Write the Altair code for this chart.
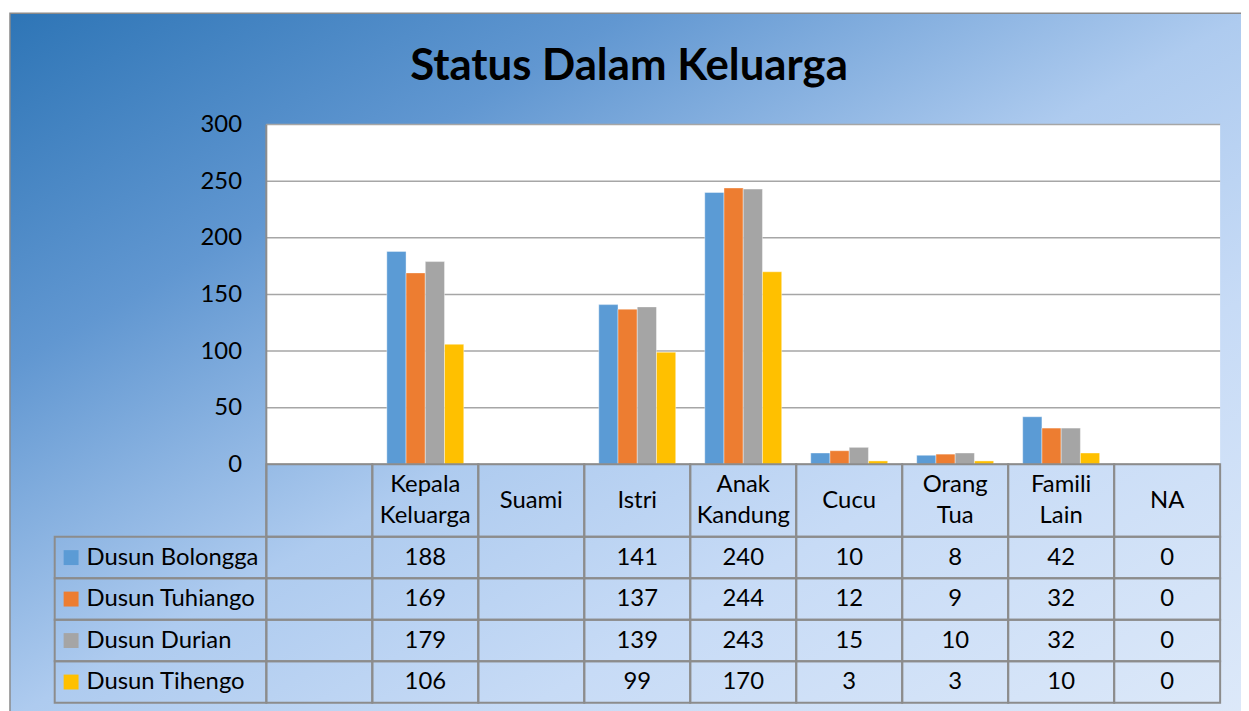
import altair as alt
import pandas as pd

# ---------------- data ----------------
categories = ["", "Kepala Keluarga", "Suami", "Istri", "Anak Kandung", "Cucu",
              "Orang Tua", "Famili Lain", "NA"]
series = ["Dusun Bolongga", "Dusun Tuhiango", "Dusun Durian", "Dusun Tihengo"]
colors = ["#5b9bd5", "#ed7d31", "#a5a5a5", "#ffc000"]
bolongga = [None, 188, None, 141, 240, 10, 8, 42, 0]
tuhiango = [None, 169, None, 137, 244, 12, 9, 32, 0]
durian = [None, 179, None, 139, 243, 15, 10, 32, 0]
tihengo = [None, 106, None, 99, 170, 3, 3, 10, 0]
y_ticks = [0, 50, 100, 150, 200, 250, 300]
title_text = "Status Dalam Keluarga"

values_by_series = dict(zip(series, [bolongga, tuhiango, durian, tihengo]))
rows = []
for s in series:
    for c, v in zip(categories, values_by_series[s]):
        rows.append({"cat": c, "series": s, "value": v,
                     "label": "" if v is None else str(v)})
df = pd.DataFrame(rows)
cat_df = pd.DataFrame({"cat": categories})
ser_df = pd.DataFrame({"series": series})
tick_df = pd.DataFrame({"v": y_ticks})
one = pd.DataFrame({"a": [0]})

# ---------------- layout (view pixels) ----------------
W, H = 1239, 700
PL, PR = 258, 1218      # plot area left/right
PT, PB = 112, 454       # plot area top/bottom (300 / 0)
HB = 527                # header row bottom
TB = 694                # table bottom
LL = 45                 # legend column left
FONT = "Lato"
FS = 24
LINE = "#8c8c8c"
LH = 31

yscale = alt.Scale(domain=[0, 300], range=[PB, PT], nice=False, zero=True)
xbar = alt.Scale(domain=categories, range=[PL, PR], paddingInner=0.274, paddingOuter=0.137)
xcell = alt.Scale(domain=categories, range=[PL, PR], paddingInner=0, paddingOuter=0)
yrow = alt.Scale(domain=series, range=[HB, TB], paddingInner=0, paddingOuter=0)
cscale = alt.Scale(domain=series, range=colors)

bg = alt.Chart(one).mark_rect(
    fill=alt.Gradient(gradient="linear", x1=0, y1=0, x2=1, y2=1,
                      stops=[alt.GradientStop(color="#2e75b6", offset=0),
                             alt.GradientStop(color="#6197d1", offset=0.25),
                             alt.GradientStop(color="#aecbef", offset=0.5),
                             alt.GradientStop(color="#c7dbf6", offset=0.7),
                             alt.GradientStop(color="#dde9f9", offset=1)]),
    stroke="#8a8a8a", strokeWidth=1.5
).encode(x=alt.value(0), x2=alt.value(W + 10), y=alt.value(0), y2=alt.value(H + 10))

title = alt.Chart(one).mark_text(
    text=title_text, font=FONT, fontSize=44, fontWeight="bold", color="black",
    align="center", baseline="alphabetic"
).encode(x=alt.value(623), y=alt.value(67))

plot_bg = alt.Chart(one).mark_rect(fill="white").encode(
    x=alt.value(PL), x2=alt.value(PR), y=alt.value(PT), y2=alt.value(PB))

grid = alt.Chart(tick_df).mark_rule(color="#a6a6a6", strokeWidth=1.5).encode(
    y=alt.Y("v:Q", scale=yscale, axis=None),
    x=alt.value(PL), x2=alt.value(PR))

left_border = alt.Chart(one).mark_rule(color=LINE, strokeWidth=2).encode(
    x=alt.value(PL), y=alt.value(PT), y2=alt.value(HB))

bars = alt.Chart(df).mark_bar(stroke="white", strokeWidth=0.8, strokeOpacity=0.5).encode(
    x=alt.X("cat:N", scale=xbar, axis=None, sort=categories),
    xOffset=alt.XOffset("series:N", scale=alt.Scale(domain=series), sort=series),
    y=alt.Y("value:Q", scale=yscale, title=None,
            axis=alt.Axis(orient="left", values=y_ticks, grid=False, domain=False,
                          ticks=False, offset=-PL, labelPadding=25, zindex=1,
                          labelFont=FONT, labelFontSize=FS, labelColor="black")),
    color=alt.Color("series:N", scale=cscale, legend=None))

header_cells = alt.Chart(cat_df).mark_rect(fill="transparent", stroke=LINE, strokeWidth=2).encode(
    x=alt.X("cat:N", scale=xcell, axis=None, sort=categories),
    y=alt.value(PB), y2=alt.value(HB))

header_one = alt.Chart(cat_df).transform_filter(
    "indexof(datum.cat, ' ') < 0"
).mark_text(
    font=FONT, fontSize=FS, color="black", align="center", baseline="middle"
).encode(x=alt.X("cat:N", scale=xcell, axis=None, sort=categories),
         y=alt.value((PB + HB) / 2), text="cat:N")

header_two = alt.Chart(cat_df).transform_filter(
    "indexof(datum.cat, ' ') >= 0"
).mark_text(
    font=FONT, fontSize=FS, color="black", align="center", baseline="middle",
    lineBreak=" ", lineHeight=LH
).encode(x=alt.X("cat:N", scale=xcell, axis=None, sort=categories),
         y=alt.value((PB + HB) / 2 - LH / 2), text="cat:N")

data_cells = alt.Chart(df).mark_rect(fill="transparent", stroke=LINE, strokeWidth=2).encode(
    x=alt.X("cat:N", scale=xcell, axis=None, sort=categories),
    y=alt.Y("series:N", scale=yrow, axis=None, sort=series))

legend_cells = alt.Chart(ser_df).mark_rect(fill="transparent", stroke=LINE, strokeWidth=2).encode(
    x=alt.value(LL), x2=alt.value(PL),
    y=alt.Y("series:N", scale=yrow, axis=None, sort=series))

legend_sq = alt.Chart(ser_df).mark_square(size=225, opacity=1).encode(
    x=alt.value(61.5),
    y=alt.Y("series:N", scale=yrow, axis=None, sort=series),
    color=alt.Color("series:N", scale=cscale, legend=None))

legend_text = alt.Chart(ser_df).mark_text(
    font=FONT, fontSize=FS, color="black", align="left", baseline="middle"
).encode(x=alt.value(77),
         y=alt.Y("series:N", scale=yrow, axis=None, sort=series),
         text="series:N")

value_text = alt.Chart(df).mark_text(
    font=FONT, fontSize=FS, color="black", align="center", baseline="middle"
).encode(x=alt.X("cat:N", scale=xcell, axis=None, sort=categories),
         y=alt.Y("series:N", scale=yrow, axis=None, sort=series),
         text="label:N")

chart = alt.layer(
    bg, title, plot_bg, grid, left_border, bars,
    header_cells, header_one, header_two, data_cells, legend_cells,
    legend_sq, legend_text, value_text
).resolve_scale(
    x="independent", y="independent"
).properties(
    width=W, height=H,
    autosize=alt.AutoSizeParams(type="none"),
    padding={"left": 2, "top": 3, "right": 0, "bottom": 0}
).configure_view(stroke=None)

chart.save("out.html", embed_options={"renderer": "svg", "actions": False})
